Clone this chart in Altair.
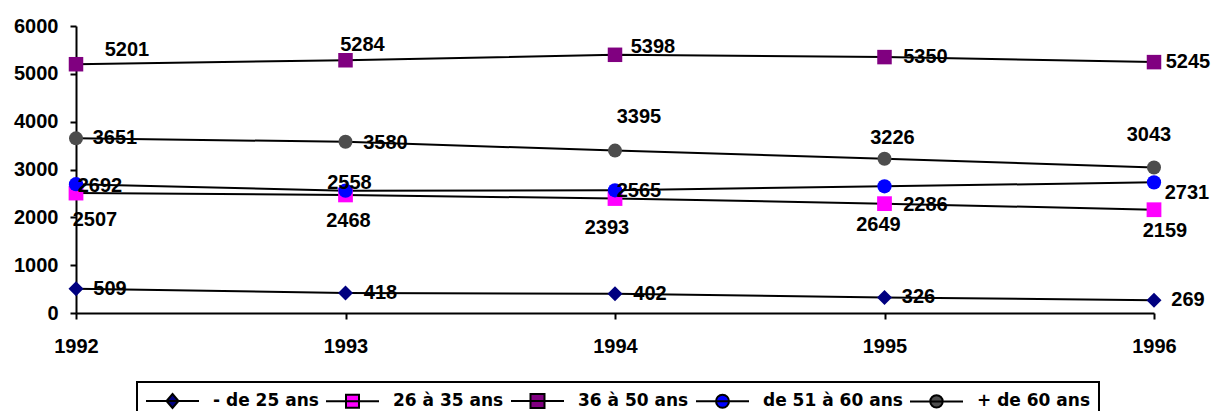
import altair as alt
import pandas as pd

# ---- data ----
years = [1992, 1993, 1994, 1995, 1996]
series_names = ["- de 25 ans", "26 à 35 ans", "36 à 50 ans", "de 51 à 60 ans", "+ de 60 ans"]
v_moins25 = [509, 418, 402, 326, 269]
v_26_35 = [2507, 2468, 2393, 2286, 2159]
v_36_50 = [5201, 5284, 5398, 5350, 5245]
v_51_60 = [2692, 2558, 2565, 2649, 2731]
v_plus60 = [3651, 3580, 3395, 3226, 3043]
y_ticks = [0, 1000, 2000, 3000, 4000, 5000, 6000]

# ---- styles ----
colors = ["#000080", "#FF00FF", "#800080", "#0000FF", "#4D4D4D"]
shapes = ["diamond", "square", "square", "circle", "circle"]
marker_sizes = [225, 196, 256, 196, 196]
legend_paths = [
    "M-2.65,0L2.65,0M0,-0.7L0.6,0L0,0.7L-0.6,0Z",
    "M-2.65,0L2.65,0M-0.65,-0.65L0.65,-0.65L0.65,0.65L-0.65,0.65Z",
    "M-2.65,0L2.65,0M-0.7,-0.7L0.7,-0.7L0.7,0.7L-0.7,0.7Z",
    "M-2.65,0L2.65,0M0.65,0A0.65,0.65,0,1,1,-0.65,0A0.65,0.65,0,1,1,0.65,0Z",
    "M-2.65,0L2.65,0M0.62,0A0.62,0.62,0,1,1,-0.62,0A0.62,0.62,0,1,1,0.62,0Z",
]
# data-label offsets (dx, dy) in pixels, per series and year
label_offsets = {
    "- de 25 ans": [(34, 0), (35, 0), (35, 0), (34, 0), (34, 0)],
    "26 à 35 ans": [(19, 27), (3, 26), (-8, 29), (41, 1), (11, 21)],
    "36 à 50 ans": [(51, -14), (17, -15), (38, -8), (41, 0), (34, 0)],
    "de 51 à 60 ans": [(24, 2), (4, -8), (24, 1), (-6, 39), (33, 11)],
    "+ de 60 ans": [(39, 0), (40, 1), (24, -34), (8, -21), (-5, -32)],
}

values_by_series = [v_moins25, v_26_35, v_36_50, v_51_60, v_plus60]
rows = []
for name, vals in zip(series_names, values_by_series):
    for yr, v in zip(years, vals):
        rows.append({"series": name, "year": yr, "value": v})
df = pd.DataFrame(rows)

FONT = "Liberation Sans"

x_enc = alt.X(
    "year:Q",
    scale=alt.Scale(domain=[1992, 1996], nice=False, zero=False),
    axis=alt.Axis(values=years, format="d", title=None, labelPadding=17,
                  labelFlush=False, labelOverlap=False),
)
y_enc = alt.Y(
    "value:Q",
    scale=alt.Scale(domain=[0, 6000], nice=False),
    axis=alt.Axis(values=y_ticks, format="d", title=None, labelPadding=12,
                  labelFlush=False, labelOverlap=False),
)

base = alt.Chart(df)

lines = base.mark_line(color="black", strokeWidth=2).encode(
    x=x_enc, y=y_enc, detail="series:N"
)

points = base.mark_point(filled=True, opacity=1, strokeWidth=0).encode(
    x=x_enc,
    y=y_enc,
    color=alt.Color("series:N", scale=alt.Scale(domain=series_names, range=colors), legend=None),
    shape=alt.Shape("series:N", scale=alt.Scale(domain=series_names, range=shapes), legend=None),
    size=alt.Size("series:N", scale=alt.Scale(domain=series_names, range=marker_sizes), legend=None),
)

label_layers = []
for name in series_names:
    for i, yr in enumerate(years):
        dx, dy = label_offsets[name][i]
        lay = base.transform_filter(
            (alt.datum.series == name) & (alt.datum.year == yr)
        ).mark_text(
            font=FONT, fontWeight="bold", fontSize=20, color="black",
            align="center", baseline="middle", dx=dx, dy=dy,
        ).encode(x=x_enc, y=y_enc, text=alt.Text("value:Q", format="d"))
        label_layers.append(lay)

leg = alt.Legend(
    title=None, orient="none", legendX=61, legendY=356, direction="horizontal",
    columns=5, labelFont="DejaVu Sans", labelFontWeight="bold", labelFontSize=17,
    labelColor="black", symbolSize=400, symbolStrokeWidth=2,
    symbolOffset=16.5, labelOffset=29.5, columnPadding=3,
    padding=8, strokeColor="black", fillColor="white", symbolOpacity=1,
)

legend_layer = base.transform_filter("false").mark_point(
    filled=True, stroke="black", strokeWidth=2
).encode(
    color=alt.Color("series:N", scale=alt.Scale(domain=series_names, range=colors), legend=leg),
    shape=alt.Shape("series:N", scale=alt.Scale(domain=series_names, range=legend_paths), legend=leg),
)

chart = alt.layer(lines, points, *label_layers, legend_layer).resolve_scale(
    color="independent", shape="independent"
).properties(
    width=1078, height=287,
    padding={"left": 68, "top": 18, "right": 57, "bottom": 98},
    autosize=alt.AutoSizeParams(type="none"),
).configure_view(stroke=None).configure_axis(
    grid=False, domainColor="black", domainWidth=2, tickColor="black",
    tickWidth=2, tickSize=6, labelFont=FONT, labelFontWeight="bold",
    labelFontSize=20, labelColor="black",
).configure_legend(strokeWidth=2)

chart.save("out.html", embed_options={"renderer": "svg", "actions": False})
